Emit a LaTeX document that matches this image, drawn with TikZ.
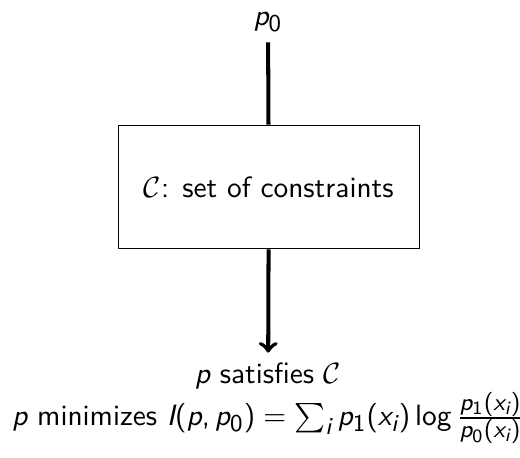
\documentclass[tikz,border=0pt,11pt]{standalone}
\usepackage{amsmath,amssymb}
\renewcommand{\familydefault}{\sfdefault}
\usepackage[italic]{mathastext}
\usetikzlibrary{positioning}
\tikzset{constrbox/.style={draw,minimum width=3.94cm,minimum height=1.62cm},
  flow/.style={line width=1.5pt}}

\begin{document}
\begin{tikzpicture}[>=to,line join=round]
\useasboundingbox (0,0) rectangle (6.81,5.99);
% --- prior, constraint set, resulting distribution
\node[constrbox] (constr) at (3.52,3.54) {$\mathcal{C}$: set of constraints};
\node[anchor=base] (prior) at (3.51,5.66) {$p_0$};
\node[align=center,anchor=base] (result) at (3.51,0.42)
  {$p$ satisfies $\mathcal{C}$\\
   $p$ minimizes $I(p,p_0)=\sum_i p_1(x_i)\log\frac{p_1(x_i)}{p_0(x_i)}$};
\draw[flow] (prior) -- (constr);
\draw[flow,->] (constr) -- (result);
\end{tikzpicture}
\end{document}
